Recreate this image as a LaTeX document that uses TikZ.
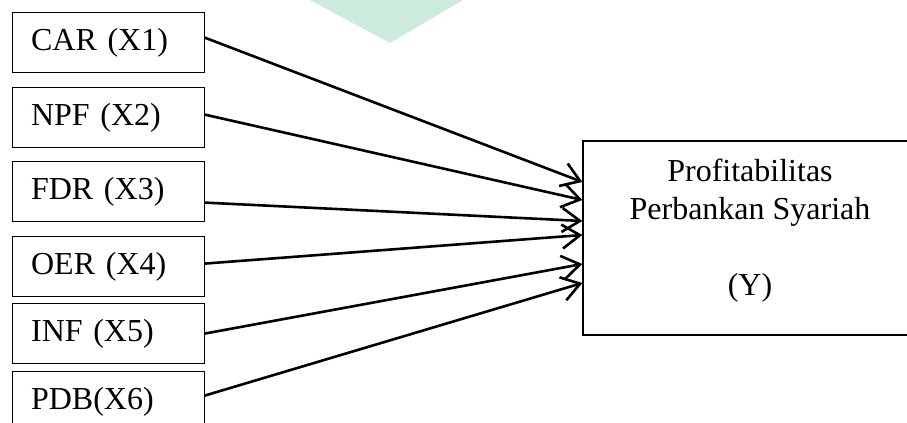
\documentclass[tikz,border=0pt]{standalone}
\usepackage{fontspec}
\setmainfont{Liberation Serif}
\usetikzlibrary{arrows.meta,calc}
\definecolor{markgreen}{RGB}{204,235,220}

\begin{document}
\begin{tikzpicture}[x=0.5pt,y=-0.5pt,line width=1.3pt,>={Straight Barb[length=9pt,width=12pt]},
  varbox/.style={draw,line width=0.6pt,anchor=north west,minimum width=96pt,minimum height=30pt,
    inner xsep=9.5pt,text width=77pt,align=left,font=\fontsize{16}{18.9}\selectfont},
  ybox/.style={draw,line width=0.6pt,minimum width=167pt,minimum height=97pt}]
\useasboundingbox (0,0) rectangle (907,423);
\clip (0,0) rectangle (907,423);
% ---------- watermark corner ----------
\fill[markgreen] (304,-3) -- (390,43) -- (468,-3) -- cycle;
% ---------- independent variables ----------
\node[varbox] (car) at (11.5,12)  {CAR (X1)};
\node[varbox] (npf) at (11.5,87)  {NPF (X2)};
\node[varbox] (fdr) at (11.5,161) {FDR (X3)};
\node[varbox] (oer) at (11.5,236) {OER (X4)};
\node[varbox] (inf) at (11.5,303) {INF (X5)};
\node[varbox] (pdb) at (11.5,371) {PDB(X6)};
% ---------- dependent variable ----------
\node[ybox] (prof) at (750,238) {};
\node[align=center,font=\fontsize{16}{18.9}\selectfont] (proftext) at ($(prof.center)+(0,-7.5)$)
  {Profitabilitas\\Perbankan Syariah\\[18.9pt](Y)};
% ---------- arrows ----------
\draw[->] ($(car.east)+(0,-5)$)  -- ($(prof.west)+(0,-56)$);
\draw[->] ($(npf.east)+(0,-3)$)  -- ($(prof.west)+(0,-38)$);
\draw[->] ($(fdr.east)+(0,11)$)  -- ($(prof.west)+(0,-17)$);
\draw[->] ($(oer.east)+(0,-3)$)  -- ($(prof.west)+(0,-3)$);
\draw[->] ($(inf.east)+(0,0)$)   -- ($(prof.west)+(0,26)$);
\draw[->] ($(pdb.east)+(0,-6)$)  -- ($(prof.west)+(0,45)$);
\end{tikzpicture}
\end{document}
